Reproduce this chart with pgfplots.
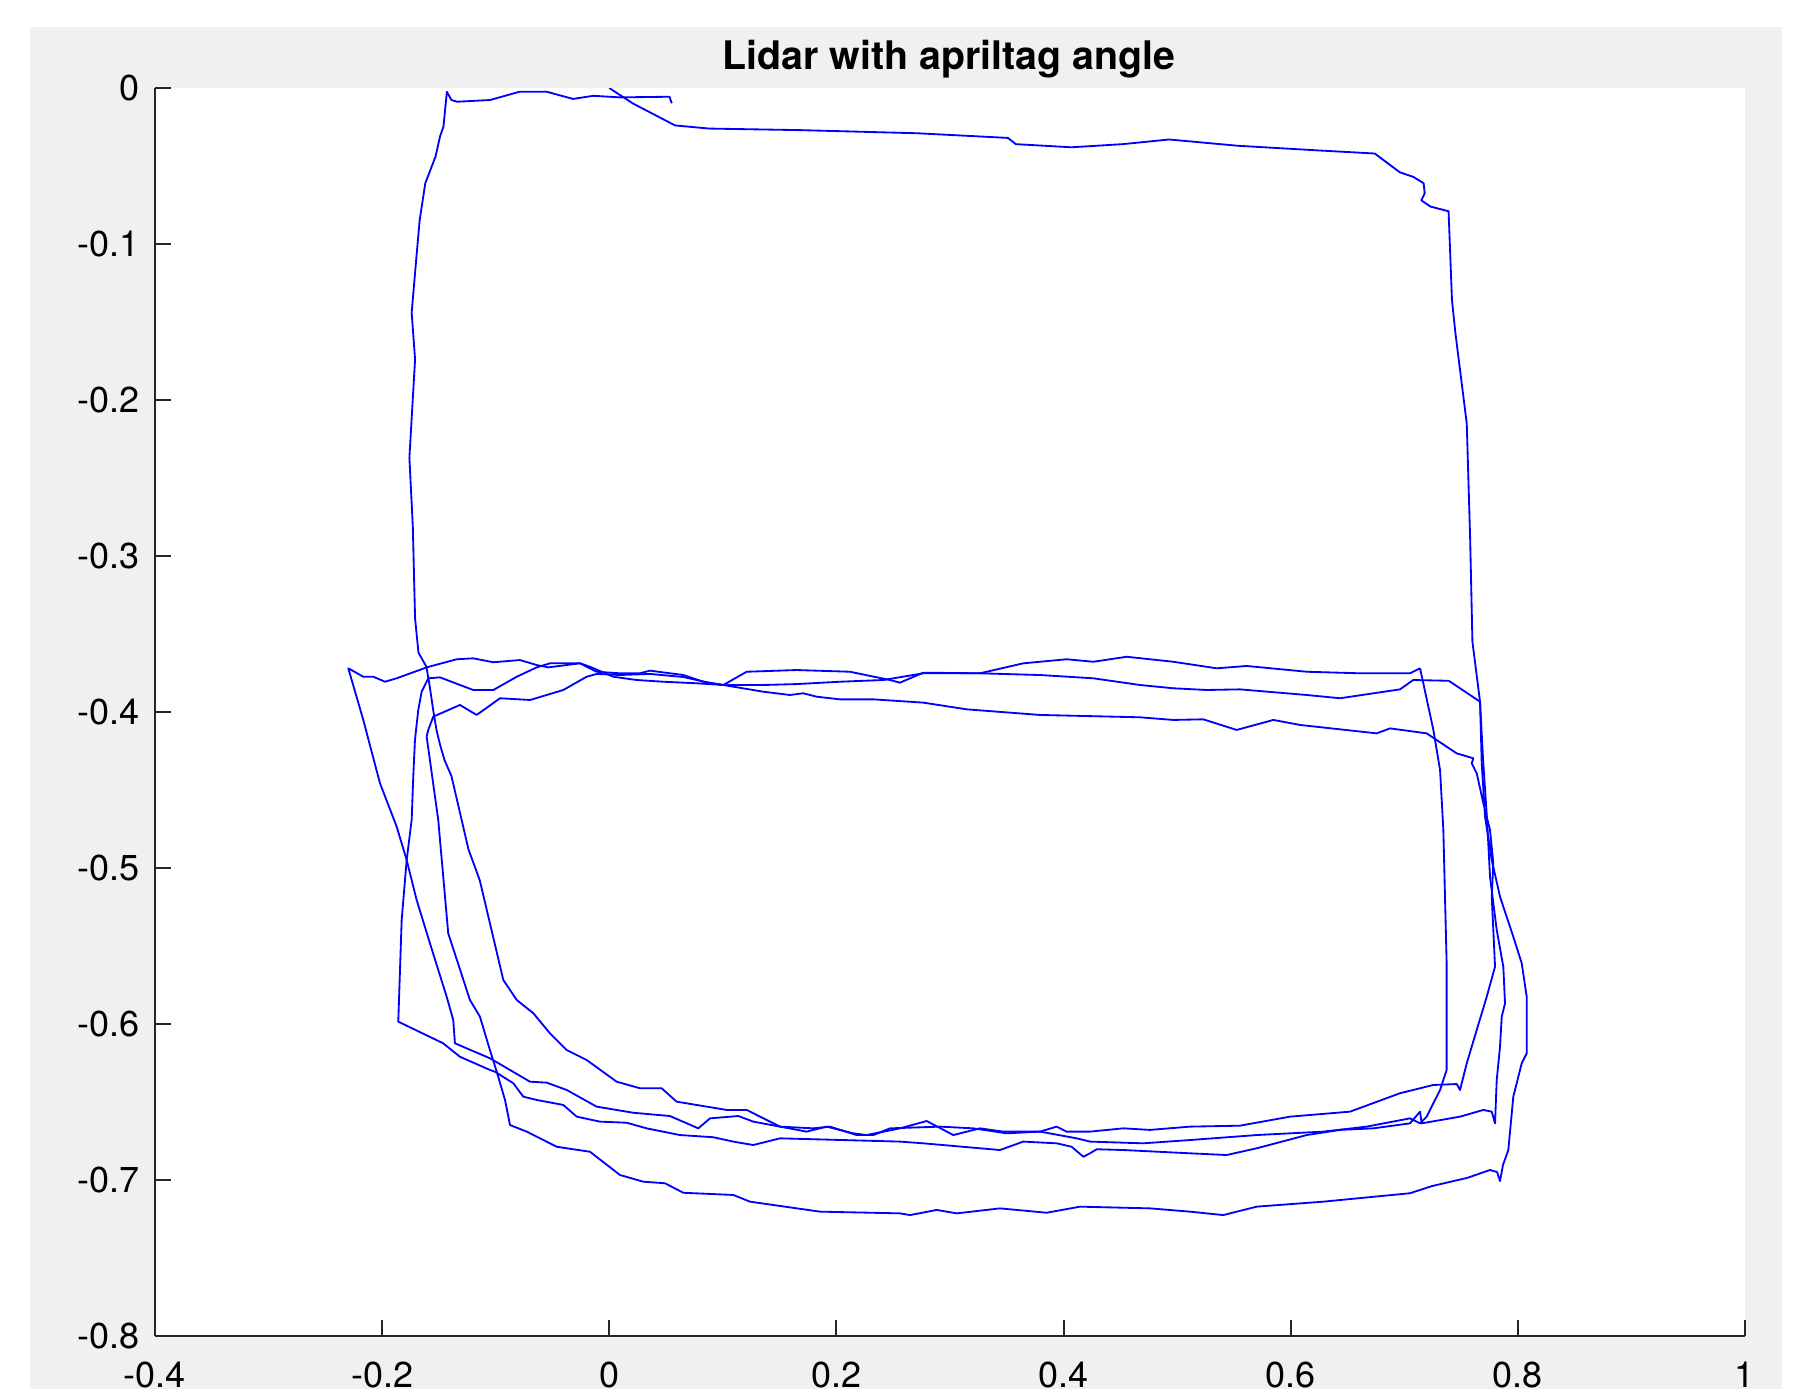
\documentclass[border=0pt]{standalone}
\usepackage{pgfplots}
\pgfplotsset{compat=1.18}
\usepackage{fontspec}
\setmainfont{TeX Gyre Heros}
\definecolor{figgray}{RGB}{240,240,240}
\definecolor{axgray}{RGB}{38,38,38}
\definecolor{trace}{RGB}{0,0,255}
\pgfplotsset{traj/.style={color=trace, line width=0.55pt, mark=none, line join=round, solid}}
\begin{document}
\begin{tikzpicture}
\fill[white] (0,0) rectangle (539.1pt,416.7pt);
\fill[figgray] (9pt,0) rectangle (534.6pt,408.6pt);
\fill[white] (46.5pt,15.9pt) rectangle (523.5pt,390.3pt);
\begin{axis}[
  at={(46.5pt,15.9pt)}, anchor=south west,
  width=477pt, height=374.4pt, scale only axis,
  xmin=-0.4, xmax=1, ymin=-0.8, ymax=0,
  axis x line*=bottom, axis y line*=left,
  axis line style={color=axgray, line width=0.6pt, -},
  xtick={-0.4,-0.2,0,0.2,0.4,0.6,0.8,1},
  xticklabels={-0.4,-0.2,0,0.2,0.4,0.6,0.8,1},
  ytick={-0.8,-0.7,-0.6,-0.5,-0.4,-0.3,-0.2,-0.1,0},
  yticklabels={-0.8,-0.7,-0.6,-0.5,-0.4,-0.3,-0.2,-0.1,0},
  tick align=inside, major tick length=4.8pt,
  tick style={color=axgray, line width=0.6pt},
  ticklabel style={font=\fontsize{10.8}{12}\selectfont, inner sep=0pt, text=black},
  xticklabel style={anchor=north, yshift=-7.6pt},
  yticklabel style={anchor=east, xshift=-4.5pt},
]
% A: start, top edge, right edge of the upper rectangle
\addplot[traj] coordinates {
(0,0) (0.021,-0.010) (0.058,-0.024) (0.088,-0.026) (0.168,-0.027) (0.271,-0.029)
(0.351,-0.032) (0.358,-0.036) (0.407,-0.038) (0.452,-0.036) (0.493,-0.033) (0.553,-0.037)
(0.624,-0.040) (0.674,-0.042) (0.696,-0.054) (0.708,-0.057) (0.717,-0.061) (0.718,-0.0675)
(0.715,-0.072) (0.723,-0.076) (0.739,-0.079) (0.742,-0.136) (0.745,-0.157) (0.755,-0.215)
(0.758,-0.289) (0.760,-0.355) (0.7667,-0.3934)
};
% B: end, left edge, loops
\addplot[traj] coordinates {
(0.055,-0.0098) (0.053,-0.0056) (0.0094,-0.006) (-0.014,-0.005) (-0.032,-0.007) (-0.055,-0.0024)
(-0.079,-0.0024) (-0.105,-0.0077) (-0.134,-0.0088) (-0.139,-0.0077) (-0.143,-0.0024) (-0.146,-0.0247)
(-0.149,-0.031) (-0.153,-0.044) (-0.162,-0.061) (-0.167,-0.085) (-0.170,-0.110) (-0.174,-0.144)
(-0.171,-0.174) (-0.176,-0.237) (-0.173,-0.281) (-0.171,-0.340) (-0.168,-0.362) (-0.161,-0.371)
(-0.158,-0.384) (-0.155,-0.399) (-0.152,-0.412) (-0.149,-0.421) (-0.145,-0.431) (-0.139,-0.441)
(-0.124,-0.488) (-0.114,-0.508) (-0.0933,-0.5718) (-0.0815,-0.5846) (-0.0669,-0.5931) (-0.0522,-0.6060)
(-0.0375,-0.6167) (-0.0199,-0.6231) (0.0065,-0.6370) (0.0270,-0.6412) (0.0461,-0.6412) (0.0593,-0.6498)
(0.1034,-0.6551) (0.1210,-0.6551) (0.1503,-0.6658) (0.1738,-0.6690) (0.1914,-0.6658) (0.2148,-0.6701)
(0.2266,-0.6712) (0.2560,-0.6669) (0.2795,-0.6622) (0.3029,-0.6712) (0.3264,-0.6669) (0.3469,-0.6690)
(0.3792,-0.6690) (0.3939,-0.6658) (0.4027,-0.6690) (0.4233,-0.6690) (0.4526,-0.6669) (0.4761,-0.6679)
(0.5113,-0.6658) (0.5553,-0.6652) (0.5994,-0.6594) (0.6522,-0.6562) (0.6962,-0.6444) (0.7255,-0.6391)
(0.7462,-0.6385) (0.7491,-0.6423) (0.7550,-0.6252) (0.7638,-0.6038) (0.7726,-0.5825) (0.7799,-0.5633)
(0.7784,-0.5397) (0.7770,-0.5184) (0.7784,-0.4970) (0.7755,-0.4756) (0.7696,-0.4585) (0.7638,-0.4393)
(0.7594,-0.4329) (0.7608,-0.4297) (0.7461,-0.4265) (0.7197,-0.4137) (0.6874,-0.4105) (0.6757,-0.4137)
(0.6082,-0.4083) (0.5847,-0.4051) (0.5524,-0.4115) (0.5230,-0.4047) (0.4966,-0.4051) (0.4673,-0.4034)
(0.3793,-0.4019) (0.3147,-0.3983) (0.2765,-0.3940) (0.2325,-0.3919) (0.2031,-0.3919) (0.1826,-0.3902)
(0.1708,-0.3880) (0.1591,-0.3891) (0.1356,-0.3870) (0.1004,-0.3827) (0.0887,-0.3814) (0.0652,-0.3776)
(0.0358,-0.3756) (0.0094,-0.3763) (-0.0111,-0.3756) (-0.0199,-0.3774) (-0.0405,-0.3859) (-0.0698,-0.3923)
(-0.0962,-0.3912) (-0.1168,-0.4019) (-0.1315,-0.3955) (-0.1550,-0.4030) (-0.1594,-0.4115) (-0.1608,-0.4158)
(-0.1506,-0.4692) (-0.1418,-0.5419) (-0.1227,-0.5846) (-0.1139,-0.5953) (-0.1051,-0.6167) (-0.0991,-0.6306)
(-0.0918,-0.6487) (-0.0874,-0.6648) (-0.0727,-0.6690) (-0.0463,-0.6787) (-0.0170,-0.6819) (0.0094,-0.6968)
(0.0299,-0.7011) (0.0490,-0.7021) (0.0652,-0.7082) (0.1092,-0.7096) (0.1239,-0.7139) (0.1855,-0.7203)
(0.2560,-0.7214) (0.2648,-0.7225) (0.2883,-0.7192) (0.3059,-0.7214) (0.3440,-0.7182) (0.3851,-0.7210)
(0.4145,-0.7171) (0.4761,-0.7182) (0.5113,-0.7203) (0.5406,-0.7225) (0.5700,-0.7171) (0.6287,-0.7139)
(0.7050,-0.7085) (0.7244,-0.7039) (0.7552,-0.6987) (0.7755,-0.6936) (0.7817,-0.6949) (0.7843,-0.7007)
(0.7869,-0.6904) (0.7916,-0.6808) (0.7960,-0.6466) (0.8034,-0.6252) (0.8078,-0.6188) (0.8078,-0.5825)
(0.8034,-0.5611) (0.7960,-0.5441) (0.7843,-0.5184) (0.7770,-0.4949) (0.7711,-0.4671) (0.7682,-0.4329)
(0.7667,-0.3934)
};
% C: middle line, left edge, bottom, right loop
\addplot[traj] coordinates {
(0.7667,-0.3934) (0.7392,-0.3800) (0.7079,-0.3795) (0.6962,-0.3855) (0.6434,-0.3912) (0.6141,-0.3891)
(0.5553,-0.3855) (0.5260,-0.3859) (0.4966,-0.3848) (0.4673,-0.3827) (0.4262,-0.3784) (0.3792,-0.3763)
(0.3264,-0.3752) (0.2765,-0.3752) (0.2413,-0.3795) (0.2031,-0.3806) (0.1650,-0.3821) (0.1356,-0.3827)
(0.1004,-0.3827) (0.0770,-0.3816) (0.0475,-0.3806) (0.0241,-0.3795) (0.0035,-0.3774) (-0.0170,-0.3710)
(-0.0258,-0.3688) (-0.0522,-0.3688) (-0.0639,-0.3714) (-0.0815,-0.3774) (-0.1021,-0.3859) (-0.1198,-0.3859)
(-0.1491,-0.3778) (-0.1594,-0.3784) (-0.1652,-0.3870) (-0.1682,-0.3987) (-0.1711,-0.4179) (-0.1726,-0.4415)
(-0.1740,-0.4692) (-0.1784,-0.4949) (-0.1828,-0.5333) (-0.1858,-0.5985) (-0.1462,-0.6124) (-0.1315,-0.6210)
(-0.1050,-0.6295) (-0.1006,-0.6306) (-0.0845,-0.6380) (-0.0757,-0.6466) (-0.0639,-0.6487) (-0.0405,-0.6519)
(-0.0287,-0.6594) (-0.0082,-0.6626) (0.0153,-0.6633) (0.0329,-0.6669) (0.0623,-0.6712) (0.0916,-0.6726)
(0.1092,-0.6754) (0.1268,-0.6776) (0.1503,-0.6733) (0.2560,-0.6754) (0.2765,-0.6765) (0.3440,-0.6808)
(0.3645,-0.6754) (0.3939,-0.6765) (0.4071,-0.6787) (0.4174,-0.6851) (0.4233,-0.6829) (0.4292,-0.6803)
(0.4526,-0.6808) (0.5113,-0.6829) (0.5436,-0.6840) (0.5700,-0.6797) (0.6141,-0.6712) (0.6434,-0.6679)
(0.6727,-0.6669) (0.7050,-0.6637) (0.7139,-0.6562) (0.7153,-0.6637) (0.7491,-0.6594) (0.7696,-0.6551)
(0.7770,-0.6562) (0.7799,-0.6637) (0.7814,-0.6359) (0.7843,-0.6146) (0.7858,-0.5953) (0.7887,-0.5868)
(0.7872,-0.5633) (0.7814,-0.5397) (0.7784,-0.5226) (0.7755,-0.5056) (0.7729,-0.4692) (0.7694,-0.4308)
(0.7667,-0.3934)
};
% D: inner right edge, bottom, outer left edge, top line
\addplot[traj] coordinates {
(0.7139,-0.3720) (0.7256,-0.4115) (0.7315,-0.4372) (0.7344,-0.4756) (0.7373,-0.5611) (0.7373,-0.6295)
(0.7315,-0.6423) (0.7197,-0.6594) (0.7139,-0.6637) (0.7050,-0.6605) (0.6669,-0.6658) (0.6287,-0.6690)
(0.5700,-0.6712) (0.5113,-0.6744) (0.4702,-0.6765) (0.4233,-0.6754) (0.4116,-0.6733) (0.3792,-0.6690)
(0.3499,-0.6701) (0.3205,-0.6669) (0.2912,-0.6658) (0.2472,-0.6669) (0.2325,-0.6712) (0.2178,-0.6712)
(0.1943,-0.6658) (0.1796,-0.6669) (0.1503,-0.6658) (0.1268,-0.6626) (0.1136,-0.6590) (0.0887,-0.6605)
(0.0784,-0.6669) (0.0534,-0.6590) (0.0211,-0.6569) (-0.0111,-0.6530) (-0.0375,-0.6423) (-0.0551,-0.6376)
(-0.0698,-0.6370) (-0.1050,-0.6220) (-0.1359,-0.6124) (-0.1374,-0.5974) (-0.1432,-0.5825) (-0.1579,-0.5483)
(-0.1696,-0.5205) (-0.1784,-0.4949) (-0.1872,-0.4735) (-0.2019,-0.4457) (-0.2166,-0.4051) (-0.2298,-0.3720)
(-0.2166,-0.3774) (-0.2078,-0.3774) (-0.1975,-0.3806) (-0.1872,-0.3784) (-0.1608,-0.3714) (-0.1344,-0.3662)
(-0.1198,-0.3656) (-0.1021,-0.3681) (-0.0786,-0.3667) (-0.0639,-0.3699) (-0.0537,-0.3714) (-0.0258,-0.3688)
(-0.0111,-0.3742) (0.0094,-0.3752) (0.0270,-0.3752) (0.0358,-0.3735) (0.0652,-0.3763) (0.0828,-0.3806)
(0.1004,-0.3827) (0.1210,-0.3742) (0.1650,-0.3731) (0.2119,-0.3742) (0.2471,-0.3795) (0.2559,-0.3812)
(0.2765,-0.3748) (0.3264,-0.3752) (0.3645,-0.3688) (0.4028,-0.3662) (0.4262,-0.3678) (0.4556,-0.3646)
(0.4966,-0.3678) (0.5348,-0.3720) (0.5612,-0.3705) (0.6141,-0.3742) (0.6610,-0.3752) (0.7050,-0.3752)
(0.7139,-0.3720)
};
\end{axis}
\node[anchor=base, inner sep=0pt, font=\bfseries\fontsize{11.8}{14}\selectfont] at (284.7pt,395.7pt) {Lidar with apriltag angle};
\pgfresetboundingbox
\path[use as bounding box] (0,0) rectangle (539.1pt,416.7pt);
\end{tikzpicture}
\end{document}
